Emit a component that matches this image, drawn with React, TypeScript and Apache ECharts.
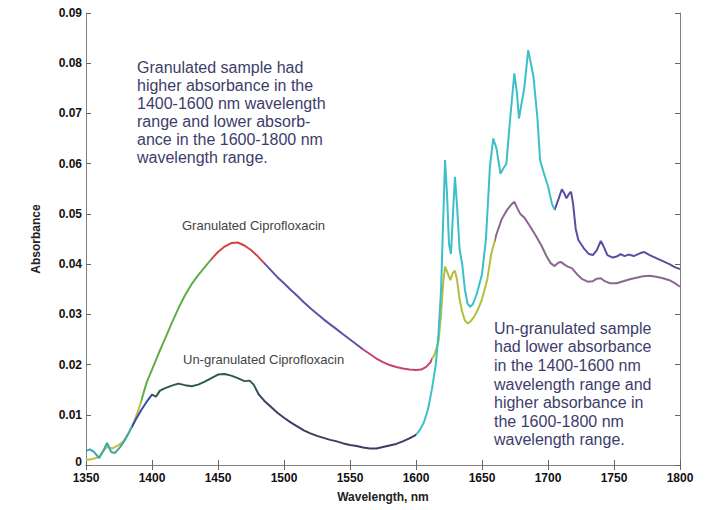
import React, { useEffect, useRef } from "react";
import * as echarts from "echarts";

// Granulated Ciprofloxacin spectrum (wavelength nm, absorbance)
const granWl = [1350,1355,1360,1363,1366,1370,1375,1378,1382,1386,1390,1393,1396,1400,1405,1410,1415,1420,1425,1430,1435,1440,1445,1450,1455,1460,1465,1470,1475,1480,1485,1490,1495,1500,1505,1510,1515,1520,1525,1530,1535,1540,1545,1550,1555,1560,1565,1570,1575,1580,1585,1590,1595,1600,1604,1608,1611,1614,1617,1619,1620.5,1622,1624,1626,1628,1629.5,1631,1633,1635,1637,1639,1641,1644,1647,1650,1654,1657,1661,1665,1669,1672,1674.5,1677,1679,1682,1686,1690,1695,1699,1702,1705,1708,1710,1713,1715,1718,1722,1726,1730,1734,1737,1740,1743,1747,1752,1757,1762,1767,1772,1777,1782,1787,1792,1796,1800];
const granAbs = [0.0010,0.0012,0.0016,0.0028,0.0036,0.0033,0.0040,0.0046,0.0062,0.0083,0.0112,0.0138,0.0165,0.0190,0.0222,0.0252,0.0283,0.0312,0.0338,0.0360,0.0378,0.0394,0.0410,0.0424,0.0435,0.0442,0.0443,0.0437,0.0428,0.0416,0.0402,0.0388,0.0374,0.0362,0.0349,0.0337,0.0324,0.0312,0.0301,0.0290,0.0280,0.0270,0.0260,0.0250,0.0240,0.0230,0.0221,0.0212,0.0205,0.0199,0.0195,0.0192,0.0190,0.0189,0.0190,0.0196,0.0205,0.0220,0.0245,0.0300,0.0360,0.0395,0.0382,0.0368,0.0383,0.0387,0.0370,0.0330,0.0305,0.0288,0.0282,0.0285,0.0295,0.0310,0.0330,0.0370,0.0420,0.0460,0.0490,0.0508,0.0518,0.0524,0.0510,0.0500,0.0493,0.0477,0.0460,0.0437,0.0415,0.0402,0.0396,0.0403,0.0404,0.0398,0.0395,0.0392,0.0380,0.0370,0.0365,0.0366,0.0371,0.0372,0.0366,0.0362,0.0362,0.0366,0.0370,0.0373,0.0376,0.0377,0.0375,0.0372,0.0368,0.0362,0.0355];

// Un-granulated Ciprofloxacin spectrum
const ungranWl = [1350,1353,1356,1360,1363,1366,1369,1372,1376,1380,1384,1388,1392,1396,1400,1403,1406,1410,1415,1420,1425,1430,1435,1440,1445,1450,1455,1460,1465,1470,1474,1477,1481,1485,1490,1495,1500,1505,1510,1515,1520,1525,1530,1535,1540,1545,1550,1555,1560,1565,1570,1575,1580,1585,1590,1595,1600,1603,1606,1609,1612,1615,1617,1619,1620.5,1622,1623.5,1625,1626.5,1628,1629.5,1631,1633,1635,1637,1639,1641,1643,1646,1650,1653,1656,1658.5,1661,1664,1666,1668.5,1671,1674.5,1676.5,1678,1680,1682,1685,1687,1689,1692,1694,1697,1700,1703,1705,1708,1710.5,1712.5,1714,1716,1717.5,1719,1721,1723,1727,1731,1734,1737,1740,1742,1745,1749,1752,1755,1758,1761,1765,1770,1773,1777,1782,1787,1792,1796,1800];
const ungranAbs = [0.0028,0.0031,0.0026,0.0014,0.0028,0.0044,0.0026,0.0024,0.0036,0.0052,0.0072,0.0092,0.0110,0.0126,0.0140,0.0136,0.0148,0.0153,0.0158,0.0162,0.0159,0.0157,0.0160,0.0166,0.0173,0.0180,0.0181,0.0178,0.0173,0.0167,0.0168,0.0160,0.0140,0.0128,0.0116,0.0104,0.0094,0.0085,0.0077,0.0069,0.0063,0.0058,0.0054,0.0050,0.0047,0.0043,0.0040,0.0038,0.0035,0.0033,0.0033,0.0036,0.0039,0.0042,0.0047,0.0053,0.0060,0.0070,0.0085,0.0110,0.0150,0.0200,0.0260,0.0350,0.0480,0.0607,0.0540,0.0440,0.0420,0.0500,0.0574,0.0520,0.0430,0.0400,0.0350,0.0322,0.0315,0.0320,0.0340,0.0380,0.0450,0.0594,0.0650,0.0630,0.0580,0.0590,0.0600,0.0680,0.0780,0.0740,0.0690,0.0720,0.0750,0.0826,0.0800,0.0773,0.0690,0.0607,0.0580,0.0555,0.0520,0.0508,0.0530,0.0549,0.0540,0.0531,0.0540,0.0544,0.0520,0.0470,0.0448,0.0432,0.0420,0.0418,0.0428,0.0446,0.0436,0.0418,0.0413,0.0415,0.0420,0.0416,0.0419,0.0416,0.0422,0.0424,0.0418,0.0412,0.0406,0.0400,0.0394,0.0390];

const granNote = [
  "Granulated sample had",
  "higher absorbance in the",
  "1400-1600 nm wavelength",
  "range and lower absorb-",
  "ance in the 1600-1800 nm",
  "wavelength range.",
];
const ungranNote = [
  "Un-granulated sample",
  "had lower absorbance",
  "in the 1400-1600 nm",
  "wavelength range and",
  "higher absorbance in",
  "the 1600-1800 nm",
  "wavelength range.",
];

const FONT = "'Liberation Sans', Arial, Helvetica, sans-serif";

export default function App() {
  const ref = useRef<HTMLDivElement>(null);
  useEffect(() => {
    document.body.style.margin = "0";
    if (!ref.current) return;
    const chart = echarts.init(ref.current, null, { renderer: "svg" });
    const tickStyle = { show: true, inside: true, length: 5, lineStyle: { color: "#666", width: 1 } };
    const lineStyle = { show: true, lineStyle: { color: "#808080", width: 1 } };
    const labelStyle = { color: "#111", fontWeight: "bold" as const, fontSize: 12, fontFamily: FONT };
    chart.setOption({
      animation: false,
      backgroundColor: "#fff",
      grid: { left: 86, right: 36, top: 13, bottom: 45 },
      xAxis: [
        {
          type: "value", min: 1350, max: 1800, interval: 50, position: "bottom",
          axisLine: lineStyle, axisTick: tickStyle, splitLine: { show: false },
          axisLabel: { ...labelStyle, margin: 7, formatter: (v: number) => String(v) },
          name: "Wavelength, nm", nameLocation: "middle", nameGap: 26,
          nameTextStyle: { color: "#222", fontWeight: "bold", fontSize: 12, fontFamily: FONT },
        },
        {
          type: "value", min: 1350, max: 1800, interval: 50, position: "top",
          axisLine: lineStyle, axisTick: tickStyle, splitLine: { show: false },
          axisLabel: { show: false },
        },
      ],
      yAxis: [
        {
          type: "value", min: 0, max: 0.09, interval: 0.01, position: "left",
          axisLine: lineStyle, axisTick: tickStyle, splitLine: { show: false },
          axisLabel: {
            ...labelStyle, margin: 4,
            formatter: (v: number) => (v === 0 ? "{z|0}" : v.toFixed(2)),
            rich: { z: { ...labelStyle, padding: [0, 0, 6, 0] } },
          },
          name: "Absorbance", nameLocation: "middle", nameGap: 44, nameRotate: 90,
          nameTextStyle: { color: "#222", fontWeight: "bold", fontSize: 12, fontFamily: FONT },
        },
        {
          type: "value", min: 0, max: 0.09, interval: 0.01, position: "right",
          axisLine: lineStyle, axisTick: tickStyle, splitLine: { show: false },
          axisLabel: { show: false },
        },
      ],
      visualMap: [
        {
          show: false, type: "piecewise", dimension: 0, seriesIndex: 0,
          pieces: [
            { gte: 1340, lt: 1392, color: "#c4bf3a" },
            { gte: 1392, lt: 1445, color: "#5fae48" },
            { gte: 1445, lt: 1485, color: "#d0453e" },
            { gte: 1485, lt: 1560, color: "#6150a8" },
            { gte: 1560, lt: 1612, color: "#c8407a" },
            { gte: 1612, lt: 1660, color: "#b5bd3c" },
            { gte: 1660, lte: 1810, color: "#8a6890" },
          ],
        },
        {
          show: false, type: "piecewise", dimension: 0, seriesIndex: 1,
          pieces: [
            { gte: 1340, lt: 1385, color: "#3aa8a8" },
            { gte: 1385, lt: 1400, color: "#3848b0" },
            { gte: 1400, lt: 1480, color: "#2e5a48" },
            { gte: 1480, lt: 1600, color: "#3c3c64" },
            { gte: 1600, lt: 1705, color: "#3cbfc8" },
            { gte: 1705, lte: 1810, color: "#5a4ea0" },
          ],
        },
      ],
      series: [
        {
          name: "Granulated Ciprofloxacin", type: "line", xAxisIndex: 0, yAxisIndex: 0,
          showSymbol: false, smooth: false, lineStyle: { width: 2 },
          data: granWl.map((w, i) => [w, granAbs[i]]),
        },
        {
          name: "Un-granulated Ciprofloxacin", type: "line", xAxisIndex: 0, yAxisIndex: 0,
          showSymbol: false, smooth: false, lineStyle: { width: 2 },
          data: ungranWl.map((w, i) => [w, ungranAbs[i]]),
        },
      ],
      graphic: [
        {
          type: "text", left: 137, top: 58,
          style: { text: granNote.join("\n"), fill: "#3d3d6b", font: `16px ${FONT}`, lineHeight: 18 },
        },
        {
          type: "text", left: 494, top: 319,
          style: { text: ungranNote.join("\n"), fill: "#3d3d6b", font: `16px ${FONT}`, lineHeight: 18.6 },
        },
        {
          type: "text", left: 182, top: 219,
          style: { text: "Granulated Ciprofloxacin", fill: "#444", font: `13px ${FONT}` },
        },
        {
          type: "text", left: 183, top: 353,
          style: { text: "Un-granulated Ciprofloxacin", fill: "#444", font: `13px ${FONT}` },
        },
      ],
    });
    return () => chart.dispose();
  }, []);
  return <div ref={ref} style={{ width: 716, height: 510 }} />;
}
